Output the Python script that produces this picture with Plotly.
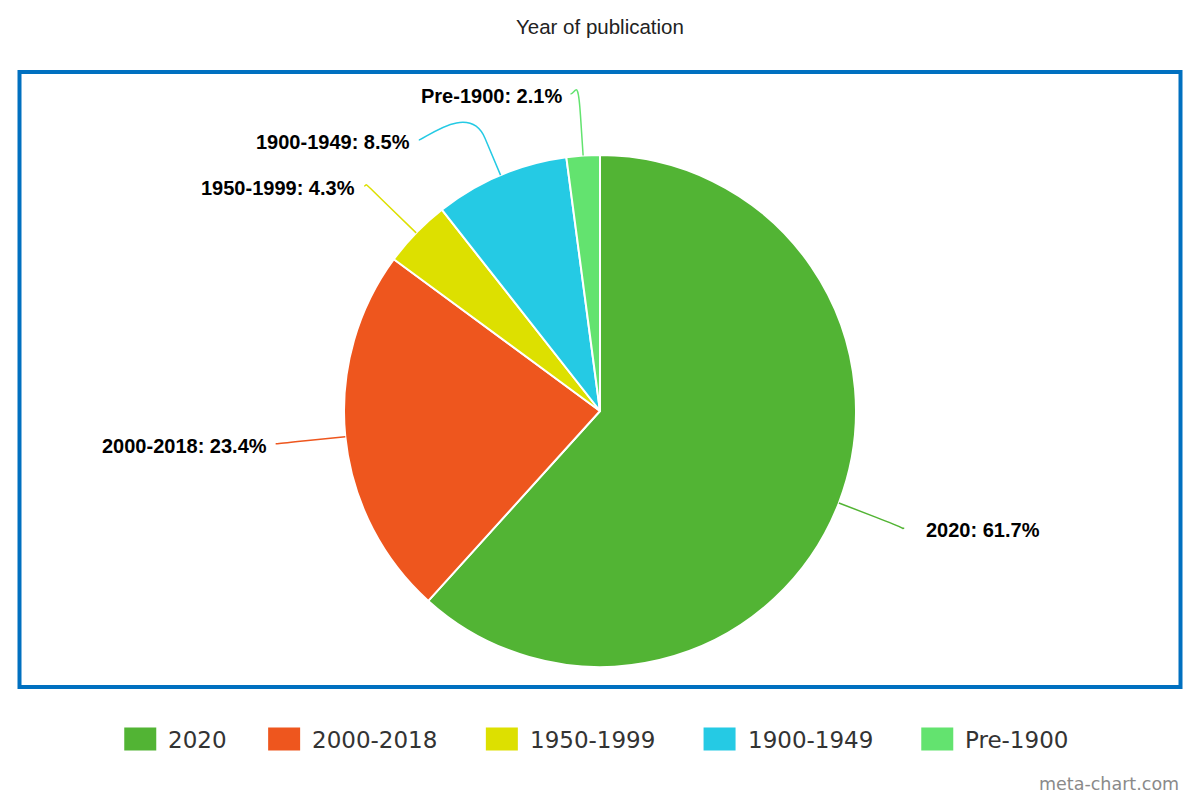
import math
import plotly.graph_objects as go

# ---- data ----
categories = ["2020", "2000-2018", "1950-1999", "1900-1949", "Pre-1900"]
percentages = [61.7, 23.4, 4.3, 8.5, 2.1]
colors = ["#52B434", "#EE561E", "#DDE000", "#25CAE4", "#63E36F"]
title_text = "Year of publication"
watermark = "meta-chart.com"

W, H = 1200, 800
cx, cy, r = 600.0, 411.0, 256.0


def px(x):
    return x / W


def py(y):
    return 1 - y / H


fig = go.Figure()
fig.add_trace(go.Pie(
    labels=categories,
    values=percentages,
    sort=False,
    direction="clockwise",
    rotation=0,
    textinfo="none",
    hoverinfo="label+percent",
    marker=dict(colors=colors, line=dict(color="white", width=2)),
    domain=dict(x=[px(cx - r), px(cx + r)], y=[py(cy + r), py(cy - r)]),
    showlegend=False,
))

# ---- outside labels with connectors, positions derived from the data ----
total = sum(percentages)
R = r + 70.0
break_r = r + 40.0
top_bound = 71 + 23
gap = 46

items = []
acc = 0.0
for cat, val, col in zip(categories, percentages, colors):
    mid = (acc + val / 2) / total * 2 * math.pi
    acc += val
    s, c = math.sin(mid), math.cos(mid)
    items.append(dict(cat=cat, val=val, col=col, s=s, c=c,
                      nx=cx + R * s, ny=cy - R * c,
                      left=s < 0))


def getx(y, left):
    dy = max(-R, min(R, y - cy))
    dx = math.sqrt(R * R - dy * dy)
    return cx - dx if left else cx + dx


for side in (True, False):
    group = sorted([it for it in items if it["left"] == side], key=lambda d: d["ny"])
    prev = None
    for it in group:
        y = it["ny"]
        x = it["nx"]
        if prev is None:
            if y < top_bound:
                y = top_bound
                x = x - 8 if side else x + 8
        else:
            if y < prev + gap:
                y = prev + gap
                x = getx(y, side)
        it["lx"], it["ly"] = x, y
        prev = y

annotations = []
shapes = []
for it in items:
    tx, ty = cx + r * it["s"], cy - r * it["c"]
    bx, by = cx + break_r * it["s"], cy - break_r * it["c"]
    lx, ly = it["lx"], it["ly"]
    sgn = -1 if it["left"] else 1
    c1x, c1y = lx - sgn * 5, ly
    c2x, c2y = 2 * bx - tx, 2 * by - ty
    path = (f"M {px(lx)},{py(ly)} C {px(c1x)},{py(c1y)} {px(c2x)},{py(c2y)} "
            f"{px(bx)},{py(by)} L {px(tx)},{py(ty)}")
    shapes.append(dict(type="path", xref="paper", yref="paper", path=path,
                       line=dict(color=it["col"], width=1.5)))
    text_x = lx - 7 if it["left"] else lx + 20
    annotations.append(dict(
        x=px(text_x), y=py(ly + 2), xref="paper", yref="paper",
        xanchor="right" if it["left"] else "left", yanchor="middle",
        text=f"{it['cat']}: {it['val']}%", showarrow=False,
        font=dict(family="Liberation Sans, Arial, sans-serif", size=20,
                  color="#000000", weight="bold"),
    ))

# ---- border box ----
shapes.append(dict(type="rect", xref="paper", yref="paper",
                   x0=px(19.5), x1=px(1180.5), y0=py(687), y1=py(72),
                   line=dict(color="#0070C0", width=4), fillcolor="rgba(0,0,0,0)"))

# ---- title ----
annotations.append(dict(x=0.5, y=py(27), xref="paper", yref="paper",
                        xanchor="center", yanchor="middle", text=title_text,
                        showarrow=False,
                        font=dict(family="Liberation Sans, Arial, sans-serif",
                                  size=20.5, color="#222222")))

# ---- manual legend ----
leg_size = 23
char_w = {"-": 0.65, "P": 0.62, "r": 0.43, "e": 0.63}


def text_w(t):
    return sum(char_w.get(ch, 0.64) for ch in t) * leg_size


sw_w, sw_h = 32, 23
sw_text_gap = 42
item_gap = 43
widths = [sw_text_gap + text_w(c) for c in categories]
total_w = sum(widths) + item_gap * (len(categories) - 1)
x0 = W / 2 - total_w / 2
leg_y = 739
for cat, col, w in zip(categories, colors, widths):
    shapes.append(dict(type="rect", xref="paper", yref="paper",
                       x0=px(x0), x1=px(x0 + sw_w),
                       y0=py(leg_y + sw_h / 2), y1=py(leg_y - sw_h / 2),
                       line=dict(width=0), fillcolor=col))
    annotations.append(dict(x=px(x0 + sw_text_gap), y=py(leg_y + 1), xref="paper", yref="paper",
                            xanchor="left", yanchor="middle", text=cat, showarrow=False,
                            font=dict(family="DejaVu Sans, sans-serif", size=leg_size,
                                      color="#333333")))
    x0 += w + item_gap

# ---- watermark ----
annotations.append(dict(x=px(1181), y=py(784), xref="paper", yref="paper",
                        xanchor="right", yanchor="middle", text=watermark,
                        showarrow=False,
                        font=dict(family="DejaVu Sans, sans-serif", size=17.5,
                                  color="#8a8a8a")))

fig.update_layout(
    width=W, height=H,
    margin=dict(l=0, r=0, t=0, b=0),
    paper_bgcolor="white", plot_bgcolor="white",
    showlegend=False,
    shapes=shapes,
    annotations=annotations,
)

fig.write_html("out.html", config={"displayModeBar": False},
               post_script="document.body.style.margin='0';")
